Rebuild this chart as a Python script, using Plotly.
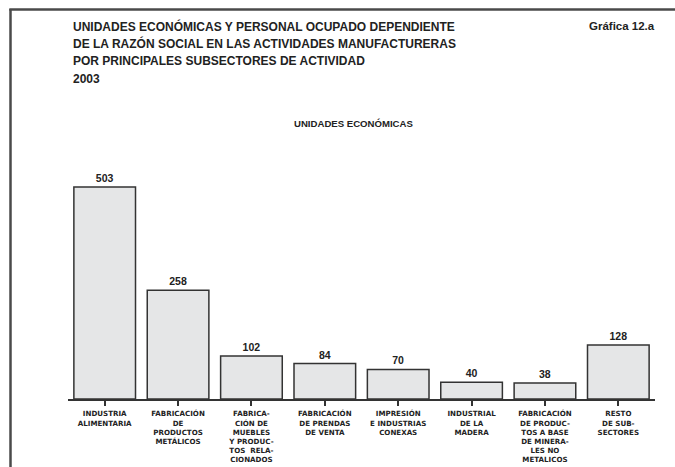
import plotly.graph_objects as go

categorias = [
    "INDUSTRIA<br>ALIMENTARIA",
    "FABRICACIÓN<br>DE<br>PRODUCTOS<br>METÁLICOS",
    "FABRICA-<br>CIÓN DE<br>MUEBLES<br>Y PRODUC-<br>TOS  RELA-<br>CIONADOS",
    "FABRICACIÓN<br>DE PRENDAS<br>DE VENTA",
    "IMPRESIÓN<br>E INDUSTRIAS<br>CONEXAS",
    "INDUSTRIAL<br>DE LA<br>MADERA",
    "FABRICACIÓN<br>DE PRODUC-<br>TOS A BASE<br>DE MINERA-<br>LES NO<br>METALICOS",
    "RESTO<br>DE SUB-<br>SECTORES",
]
unidades = [503, 258, 102, 84, 70, 40, 38, 128]

titulo = [
    "UNIDADES ECONÓMICAS Y PERSONAL OCUPADO DEPENDIENTE",
    "DE LA RAZÓN SOCIAL EN LAS ACTIVIDADES MANUFACTURERAS",
    "POR PRINCIPALES SUBSECTORES DE ACTIVIDAD",
    "2003",
]

W, H = 675, 467
L, R, T, B = 68, 20, 146, 68

def px_x(p):
    return (p - L) / (W - L - R)

def px_y(p):
    return (H - B - p) / (H - T - B)

fig = go.Figure()
fig.add_trace(go.Bar(
    x=list(range(len(categorias))), y=unidades,
    marker=dict(color="#e5e6e7", line=dict(color="#333333", width=1.5)),
    text=[str(v) for v in unidades], textposition="outside",
    textfont=dict(family="Liberation Sans, Arial", size=10.5, color="#222222"),
    texttemplate="<b>%{text}</b>", cliponaxis=False, width=0.84,
))

fig.update_xaxes(
    range=[-0.5, 7.5], tickmode="array", tickvals=list(range(len(categorias))),
    ticktext=["<b>%s</b>" % c for c in categorias], tickson="boundaries",
    ticks="outside", ticklen=5, tickwidth=1.5, tickcolor="#333333",
    showline=True, linecolor="#333333", linewidth=1.5, ticklabelstandoff=2,
    tickfont=dict(family="DejaVu Sans", size=7.1, color="#222222"),
    tickangle=0, showgrid=False, zeroline=False, automargin=False,
)
fig.update_yaxes(range=[0, 600], visible=False, showgrid=False, zeroline=False,
                 automargin=False)

anns = []
for i, linea in enumerate(titulo):
    anns.append(dict(x=px_x(71), y=px_y(26 + i * 17.7), xref="paper", yref="paper",
                     text="<b>%s</b>" % linea, showarrow=False, xanchor="left", yanchor="middle",
                     font=dict(family="Liberation Sans, Arial", size=12, color="#222222")))
anns.append(dict(x=px_x(657), y=px_y(26), xref="paper", yref="paper",
                 text="<b>Gráfica 12.a</b>", showarrow=False, xanchor="right", yanchor="middle",
                 font=dict(family="Liberation Sans, Arial", size=11.5, color="#222222")))
anns.append(dict(x=px_x(353), y=px_y(123), xref="paper", yref="paper",
                 text="<b>UNIDADES ECONÓMICAS</b>", showarrow=False, xanchor="center", yanchor="middle",
                 font=dict(family="Liberation Sans, Arial", size=9.6, color="#222222")))

shapes = [
    dict(type="line", xref="paper", yref="paper", x0=px_x(10.5), x1=px_x(10.5),
         y0=px_y(9), y1=px_y(470), line=dict(color="#4a4a4a", width=2.5)),
    dict(type="line", xref="paper", yref="paper", x0=px_x(9.3), x1=px_x(680),
         y0=px_y(9.5), y1=px_y(9.5), line=dict(color="#4a4a4a", width=2.5)),
]

fig.update_layout(
    width=W, height=H, margin=dict(l=L, r=R, t=T, b=B, autoexpand=False),
    plot_bgcolor="white", paper_bgcolor="white", showlegend=False,
    annotations=anns, shapes=shapes, bargap=0.16,
)
fig.write_html("out.html", config={"displayModeBar": False},
               post_script="document.body.style.margin='0';")
